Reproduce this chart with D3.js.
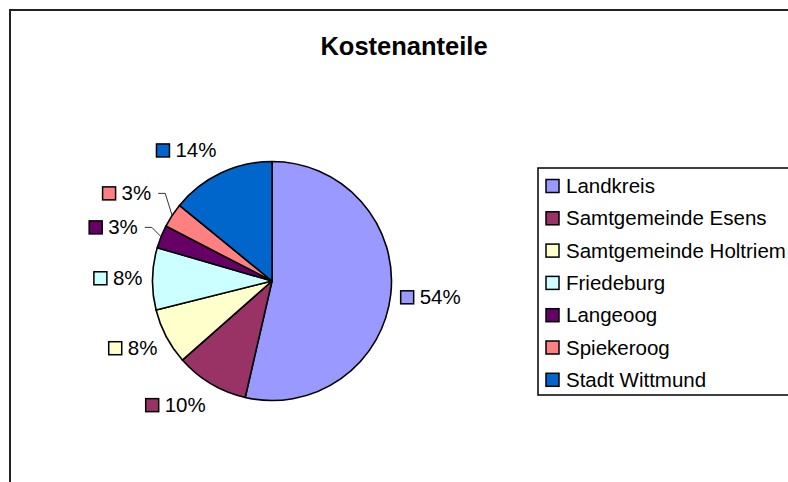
<!DOCTYPE html>
<html>
<head>
<meta charset="utf-8">
<script src="https://cdn.jsdelivr.net/npm/d3@7"></script>
<style>
	html, body { margin: 0; padding: 0; background: #fff; }
	svg { display: block; }
	text { font-family: "Liberation Sans", Arial, sans-serif; fill: #000; }
</style>
</head>
<body>
<svg id="chart" width="788" height="482"></svg>
<script>
(function(){

// data (labels show rounded percentages)
var categories = ["Landkreis", "Samtgemeinde Esens", "Samtgemeinde Holtriem", "Friedeburg", "Langeoog", "Spiekeroog", "Stadt Wittmund"];
var shares = [53.6, 9.9, 7.6, 8.4, 3.1, 3.3, 14.1];
var palette = ["#9999ff", "#993366", "#ffffcc", "#ccffff", "#660066", "#ff8080", "#0066cc"];
var title = "Kostenanteile";

var WIDTH = 788, HEIGHT = 482;
var CX = 272, CY = 281, RADIUS = 119.5;

var FONT_SIZE = 20.5;
var KEY_SIZE = 13;
var KEY_PAD = 6;
var LABEL_LIFT = 15;        // extra push of the label away from the rim, vertically
var LABEL_GAP = 10;         // label distance from the rim
var SMALL_SLICE = 0.05;      // below this share the label gets pushed out with a leader
var SMALL_EXTRA = 15;
var MIN_LABEL_SPACING = 34;

var svg = d3.select("#chart");

// chart frame (runs off the right and bottom edge like the original)
svg.append("rect")
	.attr("x", 10).attr("y", 10)
	.attr("width", WIDTH + 20).attr("height", HEIGHT + 20)
	.attr("fill", "#fff")
	.attr("stroke", "#222")
	.attr("stroke-width", 2);

svg.append("text")
	.attr("x", 404).attr("y", 55)
	.attr("text-anchor", "middle")
	.attr("font-size", "25.5px")
	.attr("font-weight", "bold")
	.text(title);

var color = d3.scaleOrdinal().domain(categories).range(palette);
var total = d3.sum(shares);

var pie = d3.pie().sort(null).value(function(d) { return d.value; });
var arcs = pie(categories.map(function(c, i) { return { name: c, value: shares[i] }; }));
var arc = d3.arc().innerRadius(0).outerRadius(RADIUS);

var pieG = svg.append("g").attr("transform", "translate(" + CX + "," + CY + ")");

pieG.selectAll("path.slice")
	.data(arcs)
	.enter().append("path")
	.attr("class", "slice")
	.attr("d", arc)
	.attr("fill", function(d) { return color(d.data.name); })
	.attr("stroke", "#000")
	.attr("stroke-width", 1.6)
	.attr("stroke-linejoin", "round");

// labels: legend key + percentage, placed outside at the mid angle
var labelG = pieG.append("g");
var labels = [];

arcs.forEach(function(d) {
	var g = labelG.append("g");
	var txt = g.append("text")
		.attr("font-size", FONT_SIZE + "px")
		.text(Math.round(d.data.value / total * 100) + "%");
	var textW = txt.node().getComputedTextLength();
	var w = KEY_SIZE + KEY_PAD + textW;

	var a = (d.startAngle + d.endAngle) / 2;
	var s = Math.sin(a), c = -Math.cos(a);
	var small = (d.endAngle - d.startAngle) / (2 * Math.PI) < SMALL_SLICE;
	var r = RADIUS + LABEL_GAP + (small ? SMALL_EXTRA : 0);

	var cx = r * s + (s >= 0 ? w / 2 : -w / 2);
	var cy = r * c + (small ? 0 : c * LABEL_LIFT);

	labels.push({ g: g, txt: txt, d: d, w: w, cx: cx, cy: cy, s: s, c: c, small: small });
});

// push overlapping labels on the left side upwards
var left = labels.filter(function(l) { return l.s < 0; })
	.sort(function(l1, l2) { return l2.cy - l1.cy; });
for(var i = 1; i < left.length; i++) {
	if(left[i - 1].cy - left[i].cy < MIN_LABEL_SPACING) {
		left[i].cy = left[i - 1].cy - MIN_LABEL_SPACING;
	}
}

labels.forEach(function(l) {
	var x0 = l.cx - l.w / 2;
	l.g.insert("rect", "text")
		.attr("x", x0).attr("y", l.cy - KEY_SIZE / 2)
		.attr("width", KEY_SIZE).attr("height", KEY_SIZE)
		.attr("fill", color(l.d.data.name))
		.attr("stroke", "#000")
		.attr("stroke-width", 1.5);
	l.txt.attr("x", x0 + KEY_SIZE + KEY_PAD).attr("y", l.cy + 7);

	if(l.small) {
		var right = l.cx + l.w / 2 + 7;
		var path = "M" + right + " " + l.cy + "L" + (right + 7) + " " + l.cy +
			"L" + (RADIUS * l.s) + " " + (RADIUS * l.c);
		labelG.append("path")
			.attr("d", path)
			.attr("fill", "none")
			.attr("stroke", "#333")
			.attr("stroke-width", 1);
	}
});

// legend
var LEGEND_X = 538, LEGEND_Y = 168, LEGEND_H = 227;
var ROW_FIRST = 193, ROW_STEP = 32.3;

svg.append("rect")
	.attr("x", LEGEND_X).attr("y", LEGEND_Y)
	.attr("width", 300).attr("height", LEGEND_H)
	.attr("fill", "#fff")
	.attr("stroke", "#000")
	.attr("stroke-width", 1.5);

var rows = svg.selectAll("g.legend-row")
	.data(categories)
	.enter().append("g")
	.attr("class", "legend-row")
	.attr("transform", function(d, i) { return "translate(0," + (ROW_FIRST + i * ROW_STEP) + ")"; });

rows.append("rect")
	.attr("x", 546).attr("y", -7 - KEY_SIZE / 2)
	.attr("width", KEY_SIZE).attr("height", KEY_SIZE)
	.attr("fill", function(d) { return color(d); })
	.attr("stroke", "#000")
	.attr("stroke-width", 1.5);

rows.append("text")
	.attr("x", 566).attr("y", 0)
	.attr("font-size", FONT_SIZE + "px")
	.text(function(d) { return d; });

})();
</script>
</body>
</html>
